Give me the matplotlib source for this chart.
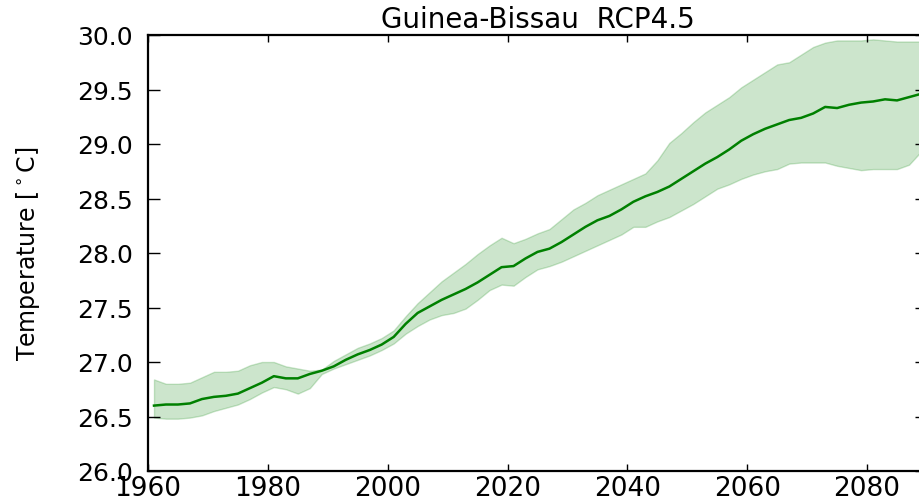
import matplotlib
matplotlib.use("Agg")
import matplotlib.pyplot as plt
import numpy as np

# values
years = [1961, 1963, 1965, 1967, 1969, 1971, 1973, 1975, 1977, 1979,
         1981, 1983, 1985, 1987, 1989, 1991, 1993, 1995, 1997, 1999,
         2001, 2003, 2005, 2007, 2009, 2011, 2013, 2015, 2017, 2019,
         2021, 2023, 2025, 2027, 2029, 2031, 2033, 2035, 2037, 2039,
         2041, 2043, 2045, 2047, 2049, 2051, 2053, 2055, 2057, 2059,
         2061, 2063, 2065, 2067, 2069, 2071, 2073, 2075, 2077, 2079,
         2081, 2083, 2085, 2087, 2089]

t_mean = [26.60, 26.61, 26.61, 26.62, 26.66, 26.68, 26.69, 26.71, 26.76, 26.81,
          26.87, 26.85, 26.85, 26.89, 26.92, 26.96, 27.02, 27.07, 27.11, 27.16,
          27.23, 27.35, 27.45, 27.51, 27.57, 27.62, 27.67, 27.73, 27.80, 27.87,
          27.88, 27.95, 28.01, 28.04, 28.10, 28.17, 28.24, 28.30, 28.34, 28.40,
          28.47, 28.52, 28.56, 28.61, 28.68, 28.75, 28.82, 28.88, 28.95, 29.03,
          29.09, 29.14, 29.18, 29.22, 29.24, 29.28, 29.34, 29.33, 29.36, 29.38,
          29.39, 29.41, 29.40, 29.43, 29.46]

t_high = [26.84, 26.80, 26.80, 26.81, 26.86, 26.91, 26.91, 26.92, 26.97, 27.00,
          27.00, 26.96, 26.94, 26.92, 26.93, 27.01, 27.07, 27.13, 27.17, 27.22,
          27.29, 27.42, 27.54, 27.64, 27.74, 27.82, 27.90, 27.99, 28.07, 28.14,
          28.09, 28.13, 28.18, 28.22, 28.31, 28.40, 28.46, 28.53, 28.58, 28.63,
          28.68, 28.73, 28.85, 29.01, 29.10, 29.20, 29.29, 29.36, 29.43, 29.52,
          29.59, 29.66, 29.73, 29.75, 29.82, 29.89, 29.93, 29.95, 29.95, 29.95,
          29.96, 29.95, 29.94, 29.94, 29.94]

t_low = [26.49, 26.48, 26.48, 26.49, 26.51, 26.55, 26.58, 26.61, 26.66, 26.72,
         26.77, 26.75, 26.71, 26.76, 26.89, 26.94, 26.98, 27.02, 27.06, 27.11,
         27.17, 27.26, 27.33, 27.39, 27.43, 27.45, 27.49, 27.57, 27.66, 27.71,
         27.70, 27.78, 27.85, 27.88, 27.92, 27.97, 28.02, 28.07, 28.12, 28.17,
         28.24, 28.24, 28.29, 28.33, 28.39, 28.45, 28.52, 28.59, 28.63, 28.68,
         28.72, 28.75, 28.77, 28.82, 28.83, 28.83, 28.83, 28.80, 28.78, 28.76,
         28.77, 28.77, 28.77, 28.81, 28.93]

x_ticks = [1960, 1980, 2000, 2020, 2040, 2060, 2080]
y_ticks = [26.0, 26.5, 27.0, 27.5, 28.0, 28.5, 29.0, 29.5, 30.0]

fig = plt.figure(figsize=(9.19, 5.02), dpi=100)
# right spine sits just past the picture edge, like the reference
ax = fig.add_axes([148/919, 30/502, 779/919, 436/502])

ax.fill_between(years, t_low, t_high, color="green", alpha=0.2, lw=1)
ax.plot(years, t_mean, color="green", lw=1.8)

ax.set_xlim(1960, 2090)
ax.set_ylim(26, 30)
ax.set_xticks(x_ticks)
ax.set_yticks(y_ticks)
ax.set_yticklabels(["%.1f" % v for v in y_ticks])

ax.tick_params(axis="x", direction="in", top=True, length=5, width=1,
               labelsize=19, pad=3)
ax.tick_params(axis="y", direction="in", right=True, length=8.6, width=1,
               labelsize=18, pad=11)
for s in ax.spines.values():
    s.set_linewidth(1.6)

ax.set_title("Guinea-Bissau  RCP4.5", fontsize=20, pad=6)
ax.set_ylabel("Temperature [$^\\circ$C]", fontsize=17)
ax.yaxis.set_label_coords(-0.136, 0.5)

fig.savefig("out.png", dpi=100)
